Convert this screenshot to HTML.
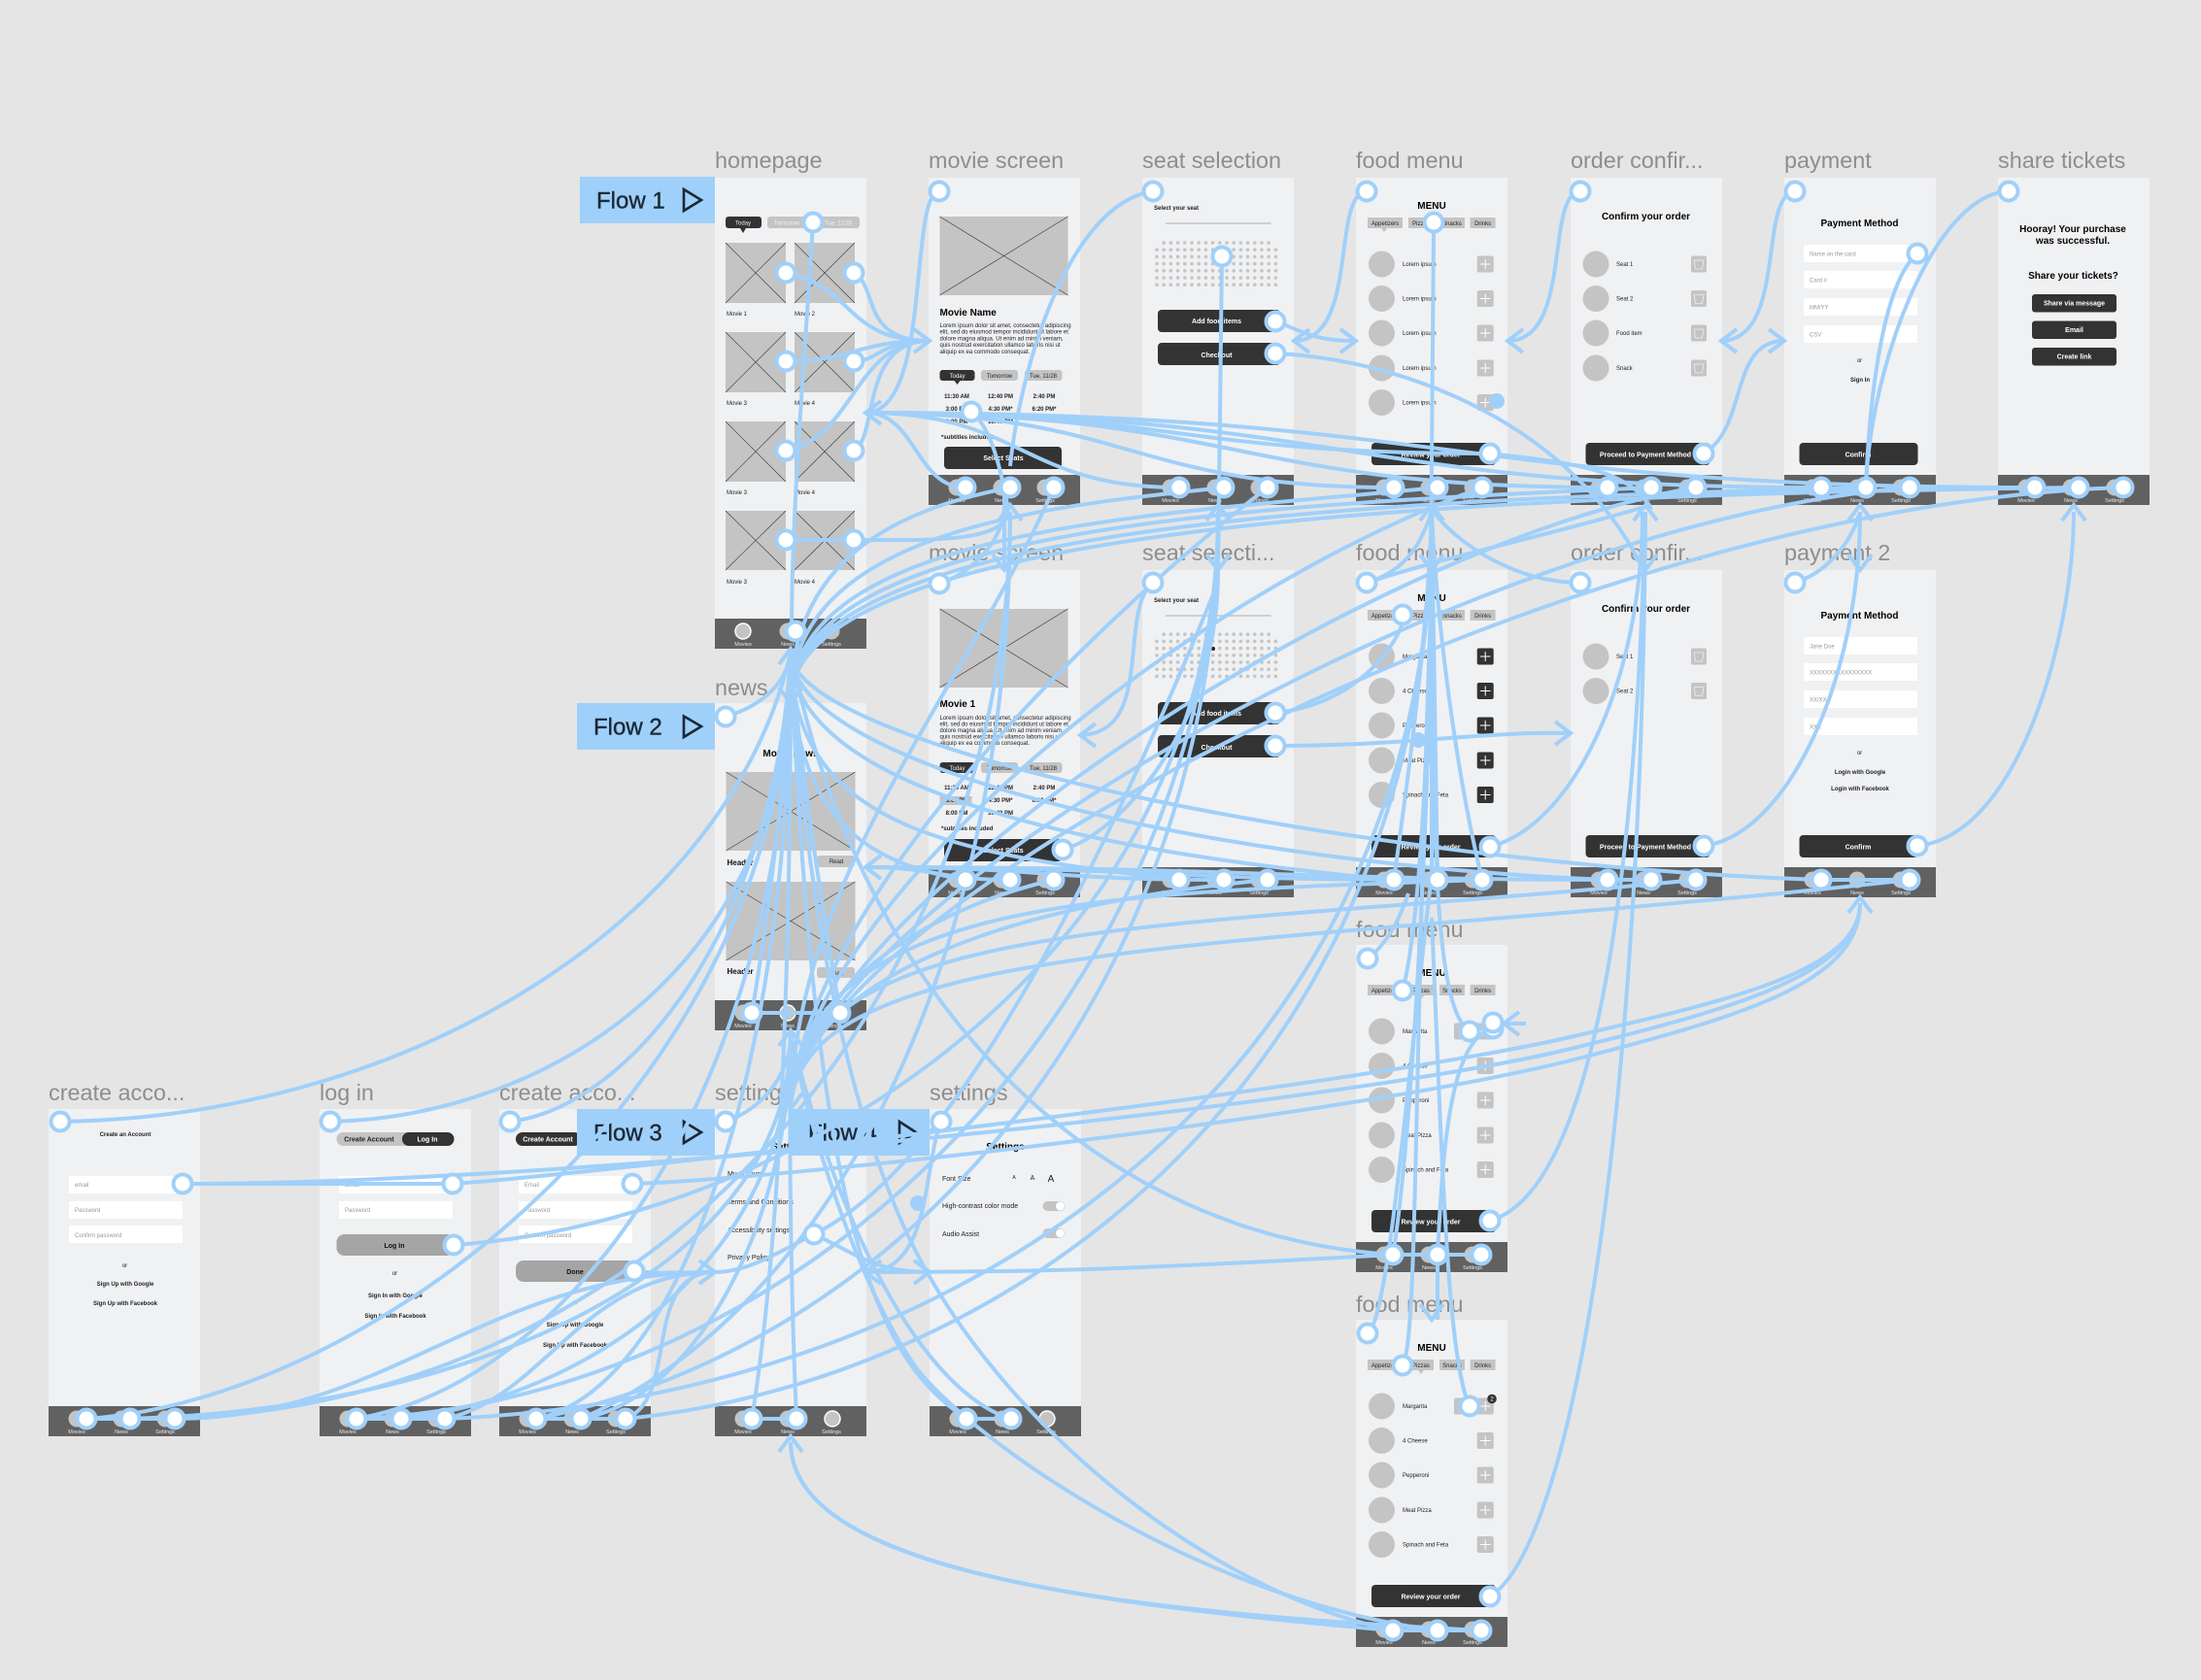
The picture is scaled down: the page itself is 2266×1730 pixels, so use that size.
<!DOCTYPE html>
<html><head><meta charset="utf-8"><title>Wireframe flows</title>
<style>
html,body{margin:0;padding:0;background:#e5e5e5;width:2266px;height:1730px;overflow:hidden}
svg{display:block;font-family:"Liberation Sans",sans-serif}
.f{fill:#f0f1f3}.t{fill:#616161}.c{fill:#c4c4c4}.d{fill:#333}.w{fill:#fff}
.lb{font-size:23.4px;fill:#8e8e8e}
.tl{font-size:5.5px;fill:#e8e8e8;text-anchor:middle}
.x{stroke:#333;stroke-width:.6;fill:none}
.s{font-size:6px;fill:#222}.sm{text-anchor:middle}
.b{font-weight:bold}
.h{font-size:10px;font-weight:bold;fill:#000;text-anchor:middle}
.bt{font-size:7px;font-weight:bold;fill:#fff;text-anchor:middle}
.dk{fill:#222}
.ph{font-size:6px;fill:#999}
.pl{font-size:6px;fill:#f0f0f0;text-anchor:middle}
.fl{font-size:24px;fill:#1c2836;stroke:#1c2836;stroke-width:.4}
.tr{fill:none;stroke:#1c2836;stroke-width:2.6}
.fb{fill:#9fd0fa}
.plus{stroke:#fff;stroke-width:1;fill:none}
.m{font-size:7px;fill:#222}
.cn path{fill:none;stroke:#a0d0fa;stroke-width:4}
.nd circle{fill:#fff;stroke:#a0d0fa;stroke-width:4}
</style></head><body>
<svg width="2266" height="1730" viewBox="0 0 2266 1730" xmlns="http://www.w3.org/2000/svg">
<defs>
<pattern id="dots" patternUnits="userSpaceOnUse" x="1187.4" y="246.4" width="7.2" height="7.2"><circle cx="3.6" cy="3.6" r="1.8" fill="#c4c4c4"/></pattern>
</defs>
<rect width="2266" height="1730" fill="#e5e5e5"/>

<!-- labels -->
<text class="lb" x="736" y="173">homepage</text>
<text class="lb" x="956" y="173">movie screen</text>
<text class="lb" x="1176" y="173">seat selection</text>
<text class="lb" x="1396" y="173">food menu</text>
<text class="lb" x="1617" y="173">order confir...</text>
<text class="lb" x="1837" y="173">payment</text>
<text class="lb" x="2057" y="173">share tickets</text>
<text class="lb" x="956" y="577">movie screen</text>
<text class="lb" x="1176" y="577">seat selecti...</text>
<text class="lb" x="1396" y="577">food menu</text>
<text class="lb" x="1617" y="577">order confir...</text>
<text class="lb" x="1837" y="577">payment 2</text>
<text class="lb" x="736" y="716">news</text>
<text class="lb" x="1396" y="965">food menu</text>
<text class="lb" x="1396" y="1351">food menu</text>
<text class="lb" x="50" y="1133">create acco...</text>
<text class="lb" x="329" y="1133">log in</text>
<text class="lb" x="514" y="1133">create acco...</text>
<text class="lb" x="736" y="1133">settings</text>
<text class="lb" x="957" y="1133">settings</text>

<!-- HOMEPAGE -->
<rect class="f" x="736" y="183" width="156" height="485"/>
<rect class="d" x="747" y="223" width="37" height="12" rx="3"/><path class="d" d="M762 235h6l-3 5z"/>
<text class="pl" x="765" y="231.5">Today</text>
<rect class="c" x="790" y="223" width="95" height="12" rx="3"/>
<text class="pl" x="810" y="231.5">Tomorrow</text><text class="pl" x="863" y="231.5">Tue, 11/28</text>
<rect class="c" x="747" y="250" width="62" height="62"/><path class="x" d="M747 250L809 312M809 250L747 312"/>
<rect class="c" x="818" y="250" width="62" height="62"/><path class="x" d="M818 250L880 312M880 250L818 312"/>
<rect class="c" x="747" y="342" width="62" height="62"/><path class="x" d="M747 342L809 404M809 342L747 404"/>
<rect class="c" x="818" y="342" width="62" height="62"/><path class="x" d="M818 342L880 404M880 342L818 404"/>
<rect class="c" x="747" y="434" width="62" height="62"/><path class="x" d="M747 434L809 496M809 434L747 496"/>
<rect class="c" x="818" y="434" width="62" height="62"/><path class="x" d="M818 434L880 496M880 434L818 496"/>
<rect class="c" x="747" y="526" width="62" height="61"/><path class="x" d="M747 526L809 587M809 526L747 587"/>
<rect class="c" x="818" y="526" width="62" height="61"/><path class="x" d="M818 526L880 587M880 526L818 587"/>
<text class="s" font-size="5.5" x="748" y="325">Movie 1</text><text class="s" x="818" y="325">Movie 2</text>
<text class="s" x="748" y="417">Movie 3</text><text class="s" x="818" y="417">Movie 4</text>
<text class="s" x="748" y="509">Movie 3</text><text class="s" x="818" y="509">Movie 4</text>
<text class="s" x="748" y="601">Movie 3</text><text class="s" x="818" y="601">Movie 4</text>
<rect class="t" x="736" y="637" width="156" height="31"/>
<circle class="c" cx="765" cy="650" r="8" stroke="#fff" stroke-width="1.4"/><circle class="c" cx="811" cy="650" r="8.5"/><circle class="c" cx="856" cy="650" r="8.5"/>
<text class="tl" x="765" y="665">Movies</text><text class="tl" x="811" y="665">News</text><text class="tl" x="856" y="665">Settings</text>

<!-- MOVIE SCREEN 1 -->
<g transform="translate(956,183)">
<rect class="f" width="156" height="337"/>
<rect class="c" x="11.5" y="40" width="132" height="81"/><path class="x" d="M11.5 40L143.5 121M143.5 40L11.5 121"/>
<text x="11.5" y="142" font-size="10" font-weight="bold" fill="#000">Movie Name</text>
<text class="s" x="11.5" y="154">Lorem ipsum dolor sit amet, consectetur adipiscing</text>
<text class="s" x="11.5" y="160.7">elit, sed do eiusmod tempor incididunt ut labore et</text>
<text class="s" x="11.5" y="167.4">dolore magna aliqua. Ut enim ad minim veniam,</text>
<text class="s" x="11.5" y="174.1">quis nostrud exercitation ullamco laboris nisi ut</text>
<text class="s" x="11.5" y="180.8">aliquip ex ea commodo consequat.</text>
<rect class="d" x="11.5" y="198" width="36" height="11" rx="3"/><path class="d" d="M26.5 209h6l-3 4z"/><text class="pl" x="29.5" y="206">Today</text>
<rect class="c" x="54" y="198" width="38" height="11" rx="3"/><text class="s sm" x="73" y="206">Tomorrow</text>
<rect class="c" x="99" y="198" width="38.5" height="11" rx="3"/><text class="s sm" x="118" y="206">Tue, 11/28</text>
<g class="s sm b"><text x="29" y="227">11:30 AM</text><text x="74" y="227">12:40 PM</text><text x="119" y="227">2:40 PM</text>
<text x="29" y="240">3:00 PM</text><text x="74" y="240">4:30 PM*</text><text x="119" y="240">6:20 PM*</text>
<text x="29" y="253">8:00 PM</text><text x="74" y="253">10:40 PM</text></g>
<text class="s b" x="13" y="269">*subtitles included</text>
<rect class="d" x="16" y="277" width="121" height="23" rx="4"/><text class="bt" x="77" y="291">Select Seats</text>
<rect class="t" y="306" width="156" height="31"/>
<circle class="c" cx="29" cy="319" r="8.5"/><circle class="c" cx="75" cy="319" r="8.5"/><circle class="c" cx="120" cy="319" r="8.5"/>
<text class="tl" x="29" y="334">Movies</text><text class="tl" x="75" y="334">News</text><text class="tl" x="120" y="334">Settings</text>
</g>

<!-- MOVIE SCREEN 2 -->
<g transform="translate(956,587)">
<rect class="f" width="156" height="337"/>
<rect class="c" x="11.5" y="40" width="132" height="81"/><path class="x" d="M11.5 40L143.5 121M143.5 40L11.5 121"/>
<text x="11.5" y="141" font-size="10" font-weight="bold" fill="#000">Movie 1</text>
<text class="s" x="11.5" y="154">Lorem ipsum dolor sit amet, consectetur adipiscing</text>
<text class="s" x="11.5" y="160.5">elit, sed do eiusmod tempor incididunt ut labore et</text>
<text class="s" x="11.5" y="167">dolore magna aliqua. Ut enim ad minim veniam,</text>
<text class="s" x="11.5" y="173.5">quis nostrud exercitation ullamco laboris nisi ut</text>
<text class="s" x="11.5" y="180">aliquip ex ea commodo consequat.</text>
<rect class="d" x="11.5" y="198" width="36" height="11" rx="3"/><text class="pl" x="29.5" y="206">Today</text>
<rect class="c" x="54" y="198" width="38" height="11" rx="3"/><text class="s sm" x="73" y="206">Tomorrow</text>
<rect class="c" x="99" y="198" width="38.5" height="11" rx="3"/><text class="s sm" x="118" y="206">Tue, 11/28</text>
<rect class="c" x="11.5" y="233" width="33" height="9"/>
<g class="s sm b"><text x="29" y="226">11:30 AM</text><text x="74" y="226">12:40 PM</text><text x="119" y="226">2:40 PM</text>
<text x="29" y="239">3:00 PM</text><text x="74" y="239">4:30 PM*</text><text x="119" y="239">6:20 PM*</text>
<text x="29" y="252">8:00 PM</text><text x="74" y="252">10:40 PM</text></g>
<text class="s b" x="13" y="268">*subtitles included</text>
<rect class="d" x="16" y="277" width="121" height="23" rx="4"/><text class="bt" x="77" y="291">Select Seats</text>
<rect class="t" y="306" width="156" height="31"/>
<circle class="c" cx="29" cy="319" r="8.5"/><circle class="c" cx="75" cy="319" r="8.5"/><circle class="c" cx="120" cy="319" r="8.5"/>
<text class="tl" x="29" y="334">Movies</text><text class="tl" x="75" y="334">News</text><text class="tl" x="120" y="334">Settings</text>
</g>

<!-- SEAT 1 -->
<g transform="translate(1176,183)">
<rect class="f" width="156" height="337"/>
<text class="s b sm" font-size="5.5" x="35" y="33">Select your seat</text>
<path d="M24 47H132.600" stroke="#c4c4c4" stroke-width="1.5"/>
<rect class="d" x="16" y="136" width="126" height="23" rx="4"/><text class="bt" x="76.500" y="150">Add food items</text>
<rect class="d" x="16" y="170" width="126" height="23" rx="4"/><text class="bt" x="76.500" y="185">Checkout</text>
<rect class="t" y="306" width="156" height="31"/>
<circle class="c" cx="29" cy="319" r="8.5"/><circle class="c" cx="75" cy="319" r="8.5"/><circle class="c" cx="120" cy="319" r="8.5"/>
<text class="tl" x="29" y="334">Movies</text><text class="tl" x="75" y="334">News</text><text class="tl" x="120" y="334">Settings</text>
</g>
<rect x="1194.600" y="246.400" width="115.200" height="7.200" fill="url(#dots)"/>
<rect x="1187.400" y="253.600" width="129.600" height="43.200" fill="url(#dots)"/>

<!-- SEAT 2 -->
<g transform="translate(1176,587)">
<rect class="f" width="156" height="337"/>
<text class="s b sm" font-size="5.5" x="35" y="33">Select your seat</text>
<path d="M24 47H132.600" stroke="#c4c4c4" stroke-width="1.5"/>
<rect class="d" x="16" y="136" width="126" height="23" rx="4"/><text class="bt" x="76.500" y="150">Add food items</text>
<rect class="d" x="16" y="170" width="126" height="23" rx="4"/><text class="bt" x="76.500" y="185">Checkout</text>
<rect class="t" y="306" width="156" height="31"/>
<circle class="c" cx="29" cy="319" r="8.5"/><circle class="c" cx="75" cy="319" r="8.5"/><circle class="c" cx="120" cy="319" r="8.5"/>
<text class="tl" x="29" y="334">Movies</text><text class="tl" x="75" y="334">News</text><text class="tl" x="120" y="334">Settings</text>
</g>
<rect x="1194.600" y="650.400" width="115.200" height="7.200" fill="url(#dots)"/>
<rect x="1187.400" y="657.600" width="129.600" height="43.200" fill="url(#dots)"/>
<circle cx="1249" cy="668" r="2" fill="#222"/>

<!-- FOOD 1 -->
<g transform="translate(1396,183)">
<rect class="f" width="156" height="337"/>
<text class="h" x="78" y="32">MENU</text>
<rect class="c" x="12" y="41" width="36" height="11"/><path class="c" d="M26 52h6l-3 4z"/><text class="s sm" x="30" y="49">Appetizers</text>
<rect class="c" x="54" y="41" width="26" height="11"/><text class="s sm" x="67" y="49">Pizzas</text>
<rect class="c" x="86" y="41" width="26" height="11"/><text class="s sm" x="99" y="49">Snacks</text>
<rect class="c" x="117.600" y="41" width="26" height="11"/><text class="s sm" x="130.600" y="49">Drinks</text>
<circle class="c" cx="26.500" cy="89" r="13.500"/><circle class="c" cx="26.500" cy="124.500" r="13.500"/><circle class="c" cx="26.500" cy="160" r="13.500"/><circle class="c" cx="26.500" cy="196" r="13.500"/><circle class="c" cx="26.500" cy="231.500" r="13.500"/>
<text class="s" x="48" y="91">Lorem ipsum</text><text class="s" x="48" y="126.500">Lorem ipsum</text><text class="s" x="48" y="162">Lorem ipsum</text><text class="s" x="48" y="198">Lorem ipsum</text><text class="s" x="48" y="233.500">Lorem ipsum</text>
<g class="c"><rect x="124.700" y="80.500" width="17" height="17" rx="2"/><rect x="124.700" y="116" width="17" height="17" rx="2"/><rect x="124.700" y="151.500" width="17" height="17" rx="2"/><rect x="124.700" y="187.500" width="17" height="17" rx="2"/><rect x="124.700" y="223" width="17" height="17" rx="2"/></g>
<path class="plus" d="M128 89h10.500M133.200 84v10M128 124.500h10.500M133.200 119.500v10M128 160h10.500M133.200 155v10M128 196h10.500M133.200 191v10M128 231.500h10.500M133.200 226.500v10"/>
<rect class="d" x="16" y="273" width="128" height="23" rx="4"/><text class="bt" x="77" y="287.500">Review your order</text>
<rect class="t" y="306" width="156" height="31"/>
<circle class="c" cx="29" cy="319" r="8.5"/><circle class="c" cx="75" cy="319" r="8.5"/><circle class="c" cx="120" cy="319" r="8.5"/>
<text class="tl" x="29" y="334">Movies</text><text class="tl" x="75" y="334">News</text><text class="tl" x="120" y="334">Settings</text>
</g>

<!-- FOOD 2 -->
<g transform="translate(1396,587)">
<rect class="f" width="156" height="337"/>
<text class="h" x="78" y="32">MENU</text>
<rect class="c" x="12" y="41" width="36" height="11"/><text class="s sm" x="30" y="49">Appetizers</text>
<rect class="c" x="54" y="41" width="26" height="11"/><path class="c" d="M64 52h6l-3 4z"/><text class="s sm" x="67" y="49">Pizzas</text>
<rect class="c" x="86" y="41" width="26" height="11"/><text class="s sm" x="99" y="49">Snacks</text>
<rect class="c" x="117.600" y="41" width="26" height="11"/><text class="s sm" x="130.600" y="49">Drinks</text>
<circle class="c" cx="26.500" cy="89" r="13.500"/><circle class="c" cx="26.500" cy="124.500" r="13.500"/><circle class="c" cx="26.500" cy="160" r="13.500"/><circle class="c" cx="26.500" cy="196" r="13.500"/><circle class="c" cx="26.500" cy="231.500" r="13.500"/>
<text class="s" x="48" y="91">Margarita</text><text class="s" x="48" y="126.500">4 Cheese</text><text class="s" x="48" y="162">Pepperoni</text><text class="s" x="48" y="198">Meat Pizza</text><text class="s" x="48" y="233.500">Spinach and Feta</text>
<g class="d"><rect x="124.700" y="80.500" width="17" height="17" rx="2"/><rect x="124.700" y="116" width="17" height="17" rx="2"/><rect x="124.700" y="151.500" width="17" height="17" rx="2"/><rect x="124.700" y="187.500" width="17" height="17" rx="2"/><rect x="124.700" y="223" width="17" height="17" rx="2"/></g>
<path class="plus" d="M128 89h10.500M133.200 84v10M128 124.500h10.500M133.200 119.500v10M128 160h10.500M133.200 155v10M128 196h10.500M133.200 191v10M128 231.500h10.500M133.200 226.500v10"/>
<rect class="d" x="16" y="273" width="128" height="23" rx="4"/><text class="bt" x="77" y="287.500">Review your order</text>
<rect class="t" y="306" width="156" height="31"/>
<circle class="c" cx="29" cy="319" r="8.5"/><circle class="c" cx="75" cy="319" r="8.5"/><circle class="c" cx="120" cy="319" r="8.5"/>
<text class="tl" x="29" y="334">Movies</text><text class="tl" x="75" y="334">News</text><text class="tl" x="120" y="334">Settings</text>
</g>

<!-- FOOD 3 -->
<g transform="translate(1396,973)">
<rect class="f" width="156" height="337"/>
<text class="h" x="78" y="32">MENU</text>
<rect class="c" x="12" y="41" width="36" height="11"/><text class="s sm" x="30" y="49">Appetizers</text>
<rect class="c" x="54" y="41" width="26" height="11"/><path class="c" d="M64 52h6l-3 4z"/><text class="s sm" x="67" y="49">Pizzas</text>
<rect class="c" x="86" y="41" width="26" height="11"/><text class="s sm" x="99" y="49">Snacks</text>
<rect class="c" x="117.600" y="41" width="26" height="11"/><text class="s sm" x="130.600" y="49">Drinks</text>
<circle class="c" cx="26.500" cy="89" r="13.500"/><circle class="c" cx="26.500" cy="124.500" r="13.500"/><circle class="c" cx="26.500" cy="160" r="13.500"/><circle class="c" cx="26.500" cy="196" r="13.500"/><circle class="c" cx="26.500" cy="231.500" r="13.500"/>
<text class="s" x="48" y="91">Margarita</text><text class="s" x="48" y="126.500">4 Cheese</text><text class="s" x="48" y="162">Pepperoni</text><text class="s" x="48" y="198">Meat Pizza</text><text class="s" x="48" y="233.500">Spinach and Feta</text>
<g class="c"><rect x="101" y="80.500" width="40.700" height="17" rx="2"/><rect x="124.700" y="116" width="17" height="17" rx="2"/><rect x="124.700" y="151.500" width="17" height="17" rx="2"/><rect x="124.700" y="187.500" width="17" height="17" rx="2"/><rect x="124.700" y="223" width="17" height="17" rx="2"/></g>
<path class="plus" d="M128 89h10.500M133.200 84v10M128 124.500h10.500M133.200 119.500v10M128 160h10.500M133.200 155v10M128 196h10.500M133.200 191v10M128 231.500h10.500M133.200 226.500v10"/>
<rect class="d" x="16" y="273" width="128" height="23" rx="4"/><text class="bt" x="77" y="287.500">Review your order</text>
<rect class="t" y="306" width="156" height="31"/>
<circle class="c" cx="29" cy="319" r="8.5"/><circle class="c" cx="75" cy="319" r="8.5"/><circle class="c" cx="120" cy="319" r="8.5"/>
<text class="tl" x="29" y="334">Movies</text><text class="tl" x="75" y="334">News</text><text class="tl" x="120" y="334">Settings</text>
</g>

<!-- FOOD 4 -->
<g transform="translate(1396,1359)">
<rect class="f" width="156" height="337"/>
<text class="h" x="78" y="32">MENU</text>
<rect class="c" x="12" y="41" width="36" height="11"/><text class="s sm" x="30" y="49">Appetizers</text>
<rect class="c" x="54" y="41" width="26" height="11"/><path class="c" d="M64 52h6l-3 4z"/><text class="s sm" x="67" y="49">Pizzas</text>
<rect class="c" x="86" y="41" width="26" height="11"/><text class="s sm" x="99" y="49">Snacks</text>
<rect class="c" x="117.600" y="41" width="26" height="11"/><text class="s sm" x="130.600" y="49">Drinks</text>
<circle class="c" cx="26.500" cy="89" r="13.500"/><circle class="c" cx="26.500" cy="124.500" r="13.500"/><circle class="c" cx="26.500" cy="160" r="13.500"/><circle class="c" cx="26.500" cy="196" r="13.500"/><circle class="c" cx="26.500" cy="231.500" r="13.500"/>
<text class="s" x="48" y="91">Margarita</text><text class="s" x="48" y="126.500">4 Cheese</text><text class="s" x="48" y="162">Pepperoni</text><text class="s" x="48" y="198">Meat Pizza</text><text class="s" x="48" y="233.500">Spinach and Feta</text>
<g class="c"><rect x="101" y="80.500" width="40.700" height="17" rx="2"/><rect x="124.700" y="116" width="17" height="17" rx="2"/><rect x="124.700" y="151.500" width="17" height="17" rx="2"/><rect x="124.700" y="187.500" width="17" height="17" rx="2"/><rect x="124.700" y="223" width="17" height="17" rx="2"/></g>
<path class="plus" d="M128 89h10.500M133.200 84v10M128 124.500h10.500M133.200 119.500v10M128 160h10.500M133.200 155v10M128 196h10.500M133.200 191v10M128 231.500h10.500M133.200 226.500v10"/>
<circle class="d" cx="140" cy="81.500" r="4.800"/><text x="140" y="83.500" font-size="6" fill="#fff" text-anchor="middle">2</text>
<rect class="d" x="16" y="273" width="128" height="23" rx="4"/><text class="bt" x="77" y="287.500">Review your order</text>
<rect class="t" y="306" width="156" height="31"/>
<circle class="c" cx="29" cy="319" r="8.5"/><circle class="c" cx="75" cy="319" r="8.5"/><circle class="c" cx="120" cy="319" r="8.5"/>
<text class="tl" x="29" y="334">Movies</text><text class="tl" x="75" y="334">News</text><text class="tl" x="120" y="334">Settings</text>
</g>

<!-- ORDER 1 -->
<g transform="translate(1617,183)">
<rect class="f" width="156" height="337"/>
<text class="h" font-size="9.500" x="77.500" y="43">Confirm your order</text>
<circle class="c" cx="26" cy="89" r="13.500"/><circle class="c" cx="26" cy="124.500" r="13.500"/><circle class="c" cx="26" cy="160" r="13.500"/><circle class="c" cx="26" cy="196" r="13.500"/>
<text class="s" x="47" y="91">Seat 1</text><text class="s" x="47" y="126.500">Seat 2</text><text class="s" x="47" y="162">Food item</text><text class="s" x="47" y="198">Snack</text>
<g class="c"><rect x="124" y="80.500" width="16" height="17" rx="2"/><rect x="124" y="116" width="16" height="17" rx="2"/><rect x="124" y="151.500" width="16" height="17" rx="2"/><rect x="124" y="187.500" width="16" height="17" rx="2"/></g>
<path d="M127 85h10l-1.500 9h-7zM127 120.500h10l-1.500 9h-7zM127 156h10l-1.500 9h-7zM127 192h10l-1.500 9h-7z" fill="none" stroke="#eee" stroke-width=".8"/>
<rect class="d" x="15.500" y="273" width="128" height="23" rx="4"/><text class="bt" x="77" y="287.500">Proceed to Payment Method</text>
<rect class="t" y="306" width="156" height="31"/>
<circle class="c" cx="29" cy="319" r="8.5"/><circle class="c" cx="75" cy="319" r="8.5"/><circle class="c" cx="120" cy="319" r="8.5"/>
<text class="tl" x="29" y="334">Movies</text><text class="tl" x="75" y="334">News</text><text class="tl" x="120" y="334">Settings</text>
</g>

<!-- ORDER 2 -->
<g transform="translate(1617,587)">
<rect class="f" width="156" height="337"/>
<text class="h" font-size="9.500" x="77.500" y="43">Confirm your order</text>
<circle class="c" cx="26" cy="89" r="13.500"/><circle class="c" cx="26" cy="124.500" r="13.500"/>
<text class="s" x="47" y="91">Seat 1</text><text class="s" x="47" y="126.500">Seat 2</text>
<g class="c"><rect x="124" y="80.500" width="16" height="17" rx="2"/><rect x="124" y="116" width="16" height="17" rx="2"/></g>
<path d="M127 85h10l-1.500 9h-7zM127 120.500h10l-1.500 9h-7z" fill="none" stroke="#eee" stroke-width=".8"/>
<rect class="d" x="15.500" y="273" width="128" height="23" rx="4"/><text class="bt" x="77" y="287.500">Proceed to Payment Method</text>
<rect class="t" y="306" width="156" height="31"/>
<circle class="c" cx="29" cy="319" r="8.5"/><circle class="c" cx="75" cy="319" r="8.5"/><circle class="c" cx="120" cy="319" r="8.5"/>
<text class="tl" x="29" y="334">Movies</text><text class="tl" x="75" y="334">News</text><text class="tl" x="120" y="334">Settings</text>
</g>

<!-- PAYMENT 1 -->
<g transform="translate(1837,183)">
<rect class="f" width="156" height="337"/>
<text class="h" x="77.500" y="50">Payment Method</text>
<g class="w"><rect x="20" y="69" width="117" height="18"/><rect x="20" y="96" width="117" height="18"/><rect x="20" y="124" width="117" height="18"/><rect x="20" y="152" width="117" height="18"/></g>
<text class="ph" x="26" y="80.500">Name on the card</text><text class="ph" x="26" y="107.500">Card #</text><text class="ph" x="26" y="135.500">MM/YY</text><text class="ph" x="26" y="163.500">CSV</text>
<text class="s sm" x="77.500" y="190">or</text><text class="s sm b" x="78" y="210">Sign In</text>
<rect class="d" x="15.500" y="273" width="122" height="23" rx="4"/><text class="bt" x="76" y="287.500">Confirm</text>
<rect class="t" y="306" width="156" height="31"/>
<circle class="c" cx="29" cy="319" r="8.5"/><circle class="c" cx="75" cy="319" r="8.5"/><circle class="c" cx="120" cy="319" r="8.5"/>
<text class="tl" x="29" y="334">Movies</text><text class="tl" x="75" y="334">News</text><text class="tl" x="120" y="334">Settings</text>
</g>

<!-- PAYMENT 2 -->
<g transform="translate(1837,587)">
<rect class="f" width="156" height="337"/>
<text class="h" x="77.500" y="50">Payment Method</text>
<g class="w"><rect x="20" y="69" width="117" height="18"/><rect x="20" y="96" width="117" height="18"/><rect x="20" y="124" width="117" height="18"/><rect x="20" y="152" width="117" height="18"/></g>
<text class="ph" x="26" y="80.500">Jane Doe</text><text class="ph" x="26" y="107.500">XXXXXXXXXXXXXXXX</text><text class="ph" x="26" y="135.500">XX/XX</text><text class="ph" x="26" y="163.500">XXX</text>
<text class="s sm" x="77.500" y="190">or</text><text class="s sm b" x="78" y="210">Login with Google</text><text class="s sm b" x="78" y="227">Login with Facebook</text>
<rect class="d" x="15.500" y="273" width="122" height="23" rx="4"/><text class="bt" x="76" y="287.500">Confirm</text>
<rect class="t" y="306" width="156" height="31"/>
<circle class="c" cx="29" cy="319" r="8.5"/><circle class="c" cx="75" cy="319" r="8.5"/><circle class="c" cx="120" cy="319" r="8.5"/>
<text class="tl" x="29" y="334">Movies</text><text class="tl" x="75" y="334">News</text><text class="tl" x="120" y="334">Settings</text>
</g>

<!-- SHARE -->
<g transform="translate(2057,183)">
<rect class="f" width="156" height="337"/>
<text class="h" x="77" y="56">Hooray! Your purchase</text><text class="h" x="77" y="68">was successful.</text>
<text class="h" x="77.500" y="104">Share your tickets?</text>
<rect class="d" x="35" y="120" width="87" height="18.500" rx="3"/><text class="bt" font-size="5.500" x="78.500" y="131.500">Share via message</text>
<rect class="d" x="35" y="147.500" width="87" height="18.500" rx="3"/><text class="bt" font-size="5.500" x="78.500" y="159">Email</text>
<rect class="d" x="35" y="175" width="87" height="18.500" rx="3"/><text class="bt" font-size="5.500" x="78.500" y="186.500">Create link</text>
<rect class="t" y="306" width="156" height="31"/>
<circle class="c" cx="29" cy="319" r="8.5"/><circle class="c" cx="75" cy="319" r="8.5"/><circle class="c" cx="120" cy="319" r="8.5"/>
<text class="tl" x="29" y="334">Movies</text><text class="tl" x="75" y="334">News</text><text class="tl" x="120" y="334">Settings</text>
</g>

<!-- NEWS -->
<g transform="translate(736,724)">
<rect class="f" width="156" height="337"/>
<text class="h" font-size="9" x="78" y="55">Movie News</text>
<rect class="c" x="11.500" y="71" width="133" height="81"/><path class="x" d="M11.500 71L144.500 152M144.500 71L11.500 152"/>
<text x="12.500" y="167" font-size="8" font-weight="bold" fill="#111">Header</text>
<rect class="c" x="105" y="157" width="39" height="12" rx="3"/><text class="s sm" x="125" y="165">Read</text>
<rect class="c" x="11.500" y="184" width="133" height="81"/><path class="x" d="M11.500 184L144.500 265M144.500 184L11.500 265"/>
<text x="12.500" y="279" font-size="8" font-weight="bold" fill="#111">Header</text>
<rect class="c" x="105" y="272" width="39" height="11" rx="3"/><text class="s sm" x="125" y="280">Read</text>
<rect class="t" y="306" width="156" height="31"/>
<circle class="c" cx="29" cy="319" r="8.5"/><circle class="c" cx="75" cy="319" r="8" stroke="#fff" stroke-width="1.400"/><circle class="c" cx="120" cy="319" r="8.5"/>
<text class="tl" x="29" y="334">Movies</text><text class="tl" x="75" y="334">News</text><text class="tl" x="120" y="334">Settings</text>
</g>

<!-- CREATE ACCOUNT -->
<g transform="translate(50,1142)">
<rect class="f" width="156" height="337"/>
<text class="s sm b" font-size="5.500" x="79" y="28">Create an Account</text>
<g class="w"><rect x="21" y="69" width="117" height="18"/><rect x="21" y="95" width="117" height="18"/><rect x="21" y="120" width="117" height="18"/></g>
<text class="ph" x="27" y="80">email</text><text class="ph" x="27" y="106">Password</text><text class="ph" x="27" y="132">Confirm password</text>
<text class="s sm" x="78.500" y="163">or</text><text class="s sm b" x="79" y="182">Sign Up with Google</text><text class="s sm b" x="79" y="202">Sign Up with Facebook</text>
<rect class="t" y="306" width="156" height="31"/>
<circle class="c" cx="29" cy="319" r="8.5"/><circle class="c" cx="75" cy="319" r="8.5"/><circle class="c" cx="120" cy="319" r="8.5"/>
<text class="tl" x="29" y="334">Movies</text><text class="tl" x="75" y="334">News</text><text class="tl" x="120" y="334">Settings</text>
</g>

<!-- LOG IN -->
<g transform="translate(329,1142)">
<rect class="f" width="156" height="337"/>
<rect class="c" x="17.500" y="24" width="121" height="14" rx="7"/><rect class="d" x="85" y="24" width="53.500" height="14" rx="7"/>
<text class="bt" x="51" y="33.500" style="fill:#222">Create Account</text><text class="bt" x="111" y="33.500">Log In</text>
<g class="w"><rect x="20" y="69" width="117" height="18"/><rect x="20" y="95" width="117" height="18"/></g>
<text class="ph" x="26" y="80">Email</text><text class="ph" x="26" y="106">Password</text>
<rect x="17.500" y="129" width="121" height="22" rx="8" fill="#a5a5a5"/><text class="bt" x="77" y="143" style="fill:#111">Log In</text>
<text class="s sm" x="77.500" y="171">or</text><text class="s sm b" x="78" y="194">Sign In with Google</text><text class="s sm b" x="78" y="215">Sign In with Facebook</text>
<rect class="t" y="306" width="156" height="31"/>
<circle class="c" cx="29" cy="319" r="8.5"/><circle class="c" cx="75" cy="319" r="8.5"/><circle class="c" cx="120" cy="319" r="8.5"/>
<text class="tl" x="29" y="334">Movies</text><text class="tl" x="75" y="334">News</text><text class="tl" x="120" y="334">Settings</text>
</g>

<!-- CREATE 2 -->
<g transform="translate(514,1142)">
<rect class="f" width="156" height="337"/>
<rect class="c" x="17" y="24" width="121" height="14" rx="7"/><rect class="d" x="17" y="24" width="67" height="14" rx="7"/>
<text class="bt" x="50" y="33.500">Create Account</text>
<g class="w"><rect x="20" y="69" width="117" height="18"/><rect x="20" y="95" width="117" height="18"/><rect x="20" y="120" width="117" height="18"/></g>
<text class="ph" x="26" y="80">Email</text><text class="ph" x="26" y="106">Password</text><text class="ph" x="26" y="132">Confirm password</text>
<rect x="17" y="156" width="122" height="22" rx="8" fill="#a5a5a5"/><text class="bt" x="78" y="170" style="fill:#111">Done</text>
<text class="s sm" x="78" y="201">or</text><text class="s sm b" x="78" y="224">Sign Up with Google</text><text class="s sm b" x="78" y="245">Sign Up with Facebook</text>
<rect class="t" y="306" width="156" height="31"/>
<circle class="c" cx="29" cy="319" r="8.5"/><circle class="c" cx="75" cy="319" r="8.5"/><circle class="c" cx="120" cy="319" r="8.5"/>
<text class="tl" x="29" y="334">Movies</text><text class="tl" x="75" y="334">News</text><text class="tl" x="120" y="334">Settings</text>
</g>

<!-- SETTINGS 1 -->
<g transform="translate(736,1142)">
<rect class="f" width="156" height="337"/>
<text class="h" font-size="9" x="78" y="42">Settings</text>
<text class="m" x="13" y="69">My Account</text><text class="m" x="13" y="98">Terms and Conditions</text><text class="m" x="13" y="127">Accessibility settings</text><text class="m" x="13" y="155">Privacy Policy</text>
<rect class="t" y="306" width="156" height="31"/>
<circle class="c" cx="29" cy="319" r="8.5"/><circle class="c" cx="75" cy="319" r="8.5"/><circle class="c" cx="121" cy="319" r="8" stroke="#fff" stroke-width="1.400"/>
<text class="tl" x="29" y="334">Movies</text><text class="tl" x="75" y="334">News</text><text class="tl" x="120" y="334">Settings</text>
</g>

<!-- SETTINGS 2 -->
<g transform="translate(957,1142)">
<rect class="f" width="156" height="337"/>
<text class="h" font-size="9" x="78" y="42">Settings</text>
<text class="m" x="13" y="74">Font Size</text>
<text x="87" y="72" font-size="5" fill="#222" text-anchor="middle">A</text><text x="106" y="73" font-size="7" fill="#222" text-anchor="middle">A</text><text x="125" y="75" font-size="10" fill="#222" text-anchor="middle">A</text>
<text class="m" x="13" y="102">High-contrast color mode</text><text class="m" x="13" y="131">Audio Assist</text>
<rect class="c" x="116.500" y="95" width="23" height="10" rx="5"/><circle class="w" cx="134.500" cy="100" r="4.500"/>
<rect class="c" x="116.500" y="123" width="23" height="10" rx="5"/><circle class="w" cx="134.500" cy="128" r="4.500"/>
<rect class="t" y="306" width="156" height="31"/>
<circle class="c" cx="29" cy="319" r="8.5"/><circle class="c" cx="75" cy="319" r="8.5"/><circle class="c" cx="121" cy="319" r="8" stroke="#fff" stroke-width="1.400"/>
<text class="tl" x="29" y="334">Movies</text><text class="tl" x="75" y="334">News</text><text class="tl" x="120" y="334">Settings</text>
</g>

<!-- FLOW BUTTONS -->
<rect class="fb" x="597" y="182" width="139" height="48"/><text class="fl" x="614" y="214.500">Flow 1</text><path class="tr" d="M704 195L722 206L704 217Z"/>
<rect class="fb" x="594" y="724" width="142" height="48"/><text class="fl" x="611" y="756.500">Flow 2</text><path class="tr" d="M704 737.500L722 748L704 759Z"/>
<rect class="fb" x="594" y="1142" width="142" height="48"/><text class="fl" x="611" y="1174.500">Flow 3</text><path class="tr" d="M704 1155L722 1166L704 1177Z"/>
<rect class="fb" x="812" y="1142" width="145" height="48"/><text class="fl" x="832" y="1174.500">Flow 4</text><path class="tr" d="M926 1155L943 1166L926 1177Z"/>

<!-- CONNECTORS -->
<g class="cn">
<!-- homepage -->
<path d="M837 229C830 350 815 520 815 650"/>
<path d="M809 281C880 295 870 351 957 351"/><path d="M879 281C905 295 885 351 957 351"/>
<path d="M809 372C880 372 880 351 957 351"/><path d="M879 372C905 372 905 351 957 351"/>
<path d="M809 464C880 450 880 351 957 351"/><path d="M879 464C905 450 885 351 957 351"/>
<path d="M809 556H879"/><path d="M879 556C950 556 1038 560 1038 525"/>
<path d="M967 197C935 200 960 425 891 425"/>
<!-- fan to homepage right -->
<path d="M994 502C943 502 943 425 891 425"/><path d="M1214 502C1052 502 1052 425 891 425"/><path d="M1435 502C1163 502 1163 425 891 425"/>
<path d="M1655 502C1273 502 1273 425 891 425"/><path d="M1875 502C1383 502 1383 425 891 425"/><path d="M2095 502C1493 502 1493 425 891 425"/>
<path d="M1534 467C1212 467 1212 425 891 425"/>
<!-- row1 news to news top -->
<path d="M1040 502C950 520 815 560 814 720"/><path d="M1260 502C1100 520 815 540 814 720"/><path d="M1480 502C1200 530 820 540 814 720"/>
<path d="M1700 502C1300 520 820 540 814 720"/><path d="M1921 502C1400 515 820 540 814 720"/><path d="M2140 502C1500 510 820 540 814 720"/>
<!-- row1 settings to settings top -->
<path d="M1085 502C1000 700 820 900 814 1138"/><path d="M1305 502C1100 660 830 940 814 1138"/><path d="M1526 502C1200 620 830 940 814 1138"/>
<path d="M1746 502C1400 560 830 940 814 1138"/><path d="M1966 502C1500 540 830 940 814 1138"/><path d="M2186 502C1600 520 830 940 814 1138"/>
<!-- row2 movies to homepage bottom -->
<path d="M994 906C900 890 814 850 814 672"/><path d="M1214 906C1000 880 814 860 814 672"/><path d="M1435 906C1150 880 814 820 814 672"/>
<path d="M1655 906C1250 890 814 790 814 672"/><path d="M1875 906C1400 890 814 770 814 672"/>
<!-- row2 news to news right -->
<path d="M1040 906C965 906 965 893 891 893"/><path d="M1260 906C1075 906 1075 893 891 893"/><path d="M1480 906C1185 906 1185 893 891 893"/><path d="M1700 906C1295 906 1295 893 891 893"/>
<path d="M1966 906H1875"/>
<!-- row2 settings to settings top -->
<path d="M1085 906C980 930 830 1000 814 1138"/><path d="M1305 906C1050 930 830 1000 814 1138"/><path d="M1526 906C1150 920 830 920 814 1138"/><path d="M1746 906C1200 960 830 940 814 1138"/>
<path d="M1966 906C1300 980 830 960 814 1138"/>
<!-- movie -->
<path d="M1000 424C1020 440 1030 480 1038 525"/><path d="M1187 197C1100 210 1050 380 1040 480"/>
<path d="M967 601C1000 590 1030 560 1034 525"/><path d="M1094 875C1150 860 1254 750 1254 590"/>
<path d="M1034 586L1034 500"/>
<!-- seat -->
<path d="M1258 264L1254 590"/>
<path d="M1313 331C1340 340 1350 351 1396 351"/><path d="M1407 197C1370 200 1400 351 1332 351"/><path d="M1627 197C1590 200 1620 351 1552 351"/>
<path d="M1848 197C1810 200 1840 351 1772 351"/><path d="M1754 467C1800 440 1780 351 1837 351"/>
<path d="M1313 364C1450 370 1620 440 1691 585"/>
<path d="M1187 600C1150 630 1190 755 1112 757"/>
<path d="M1313 734C1400 725 1440 660 1444 640"/><path d="M1313 768C1400 768 1460 762 1520 758S1580 755 1617 755"/>
<!-- food bundle -->
<path d="M1476 236L1473 590"/><path d="M1474 590V906"/><path d="M1435 906C1450 800 1470 650 1474 530"/><path d="M1526 906C1500 800 1480 650 1474 530"/><path d="M1480 906L1474 530"/>
<path d="M1444 1020C1460 960 1470 800 1474 590"/><path d="M1513 1062C1480 1040 1475 900 1474 600"/>
<path d="M1434 1292C1450 1200 1470 900 1474 600"/><path d="M1480 1292C1485 1200 1490 1070 1537 1059"/><path d="M1480 1292V1359"/>
<path d="M1513 1448C1490 1400 1485 1200 1474 945"/><path d="M1444 1406C1460 1380 1455 1100 1474 600"/>
<path d="M1408 1373C1430 1360 1450 1100 1474 900"/><path d="M1408 987C1425 975 1440 950 1450 920"/>
<path d="M1548 1054H1571"/><path d="M1434 1292H1525"/><path d="M1434 1679H1525"/>
<!-- reviews up to order bottom -->
<path d="M1534 1257C1610 1235 1680 1060 1694 527"/><path d="M1534 1644C1620 1590 1690 1150 1694 527"/>
<path d="M1534 872C1620 850 1691 700 1691 527"/><path d="M1534 467C1600 475 1680 480 1700 525"/>
<path d="M1627 600C1560 600 1500 560 1474 525"/><path d="M1407 600C1440 590 1460 570 1474 527"/><path d="M1407 600C1500 570 1600 550 1700 520"/>
<!-- payment -->
<path d="M1754 871C1840 860 1915 700 1915 527"/><path d="M1974 871C2080 860 2135 650 2135 527"/>
<path d="M1848 600C1880 590 1905 560 1914 530"/><path d="M1974 261C1940 290 1925 400 1921 502"/><path d="M2068 197C1990 200 1925 380 1921 502"/>
<!-- news/back -->
<path d="M747 738C790 725 810 700 814 672"/><path d="M62 1155C420 1150 750 950 814 672"/><path d="M340 1155C560 1150 814 1000 814 672"/><path d="M525 1155C650 1140 800 950 814 672"/>
<path d="M747 1155C790 1140 815 1100 814 1065"/>
<!-- news tabs -->
<path d="M774 1043C790 950 810 800 814 672"/><path d="M865 1043C840 900 820 750 814 672"/><path d="M774 1043H865"/>
<!-- bottom row -->
<path d="M89 1461H180"/><path d="M367 1461H458"/><path d="M552 1461H644"/><path d="M774 1461H820"/><path d="M995 1461H1041"/>
<path d="M89 1461C400 1440 814 1100 814 672"/><path d="M134 1461C500 1450 814 1300 814 1066"/><path d="M180 1461C400 1461 500 1310 736 1310"/>
<path d="M367 1461C600 1420 814 1100 814 672"/><path d="M413 1461C600 1440 814 1300 814 1066"/><path d="M458 1461C560 1440 600 1310 736 1310"/>
<path d="M552 1461C700 1430 814 1100 814 672"/><path d="M598 1461C720 1440 814 1250 814 1066"/><path d="M644 1461C700 1440 660 1310 736 1310"/>
<path d="M774 1461C800 1300 814 1050 814 672"/><path d="M820 1461C815 1350 812 1200 814 1066"/>
<path d="M995 1461C905 1400 840 1280 814 672"/><path d="M1041 1461C970 1440 880 1320 814 1066"/>
<!-- food tabs long -->
<path d="M1434 1292C1100 1270 880 1000 814 672"/>
<path d="M1434 1679C1250 1640 1050 1480 955 1311C880 1180 830 950 814 672"/>
<path d="M1480 1679C1250 1650 1020 1500 945 1411C880 1320 830 1150 814 1066"/>
<path d="M1434 1679C1100 1650 814 1610 814 1485"/><path d="M1525 1679C1150 1660 814 1620 814 1485"/>
<!-- auth to payment2 -->
<path d="M188 1219H466"/>
<path d="M466 1219C600 1210 1400 1120 1625 1066C1780 1030 1915 1000 1915 930"/>
<path d="M188 1219C600 1219 1400 1135 1625 1078C1790 1038 1915 1000 1915 930"/>
<path d="M651 1219C800 1215 1400 1148 1625 1090C1800 1045 1915 1010 1915 930"/>
<path d="M467 1282C800 1260 1254 1000 1254 527"/>
<path d="M653 1309C680 1312 700 1310 736 1310"/>
<path d="M1875 906H1966"/>
<!-- settings -->
<path d="M838 1271C800 1290 770 1310 736 1310"/><path d="M838 1271C880 1290 900 1310 957 1310"/>
<path d="M1434 1292C1200 1305 1100 1310 891 1310"/><path d="M969 1155C950 1200 960 1310 891 1310"/>
<path d="M838 1271C920 1230 1050 1100 1254 600"/>
<!-- up into top row bottoms -->
<path d="M552 1461C950 1380 1254 1000 1254 527"/><path d="M367 1461C850 1440 1254 1000 1254 527"/>
<path d="M598 1461C850 1350 1040 1000 1040 527"/><path d="M180 1461C700 1440 1040 1000 1040 527"/>
<path d="M644 1461C1050 1420 1474 1100 1474 527"/><path d="M458 1461C1000 1440 1474 1100 1474 527"/>
<!-- arrowheads -->
<path d="M941 339L957 351L941 363"/><path d="M907 413L891 425L907 437"/>
<path d="M1348 339L1332 351L1348 363"/><path d="M1380 339L1396 351L1380 363"/><path d="M1568 339L1552 351L1568 363"/><path d="M1788 339L1772 351L1788 363"/><path d="M1821 339L1837 351L1821 363"/>
<path d="M907 881L891 893L907 905"/><path d="M1128 745L1112 757L1128 769"/><path d="M1601 743L1617 755L1601 767"/>
<path d="M720 1298L736 1310L720 1322"/><path d="M907 1298L891 1310L907 1322"/><path d="M941 1298L957 1310L941 1322"/>
<path d="M1564 1042L1548 1054L1564 1066"/>
<path d="M802 684L814 668L826 684"/><path d="M802 708L814 724L826 708"/><path d="M802 1077L814 1061L826 1077"/><path d="M802 1126L814 1142L826 1126"/><path d="M802 1495L814 1479L826 1495"/>
<path d="M1028 536L1040 520L1052 536"/><path d="M1242 536L1254 520L1266 536"/><path d="M1462 536L1474 520L1486 536"/><path d="M1682 536L1694 520L1706 536"/><path d="M1903 536L1915 520L1927 536"/><path d="M2123 536L2135 520L2147 536"/>
<path d="M1022 571L1034 587L1046 571"/><path d="M1242 571L1254 587L1266 571"/><path d="M1462 571L1474 587L1486 571"/><path d="M1682 571L1694 587L1706 571"/><path d="M1903 571L1915 587L1927 571"/>
<path d="M1903 940L1915 924L1927 940"/><path d="M1462 1343L1474 1359L1486 1343"/>
</g>

<!-- NODES -->
<g fill="#a0d0fa"><circle cx="1541" cy="413" r="8"/><circle cx="1460" cy="762" r="8"/><circle cx="945" cy="1239" r="8"/></g>
<g class="nd">
<circle cx="837" cy="229" r="9.500"/><circle cx="809" cy="281" r="9.500"/><circle cx="879" cy="281" r="9.500"/><circle cx="809" cy="372" r="9.500"/><circle cx="879" cy="372" r="9.500"/><circle cx="809" cy="464" r="9.500"/><circle cx="879" cy="464" r="9.500"/><circle cx="809" cy="556" r="9.500"/><circle cx="879" cy="556" r="9.500"/><circle cx="819" cy="650" r="9.500"/>
<circle cx="967" cy="197" r="9.500"/><circle cx="1000" cy="424" r="9.500"/><circle cx="994" cy="502" r="9.500"/><circle cx="1040" cy="502" r="9.500"/><circle cx="1085" cy="502" r="9.500"/>
<circle cx="1187" cy="197" r="9.500"/><circle cx="1258" cy="264" r="9.500"/><circle cx="1313" cy="331" r="9.500"/><circle cx="1313" cy="364" r="9.500"/><circle cx="1214" cy="502" r="9.500"/><circle cx="1260" cy="502" r="9.500"/><circle cx="1305" cy="502" r="9.500"/>
<circle cx="1407" cy="197" r="9.500"/><circle cx="1476" cy="229" r="9.500"/><circle cx="1534" cy="467" r="9.500"/><circle cx="1435" cy="502" r="9.500"/><circle cx="1480" cy="502" r="9.500"/><circle cx="1526" cy="502" r="9.500"/>
<circle cx="1627" cy="197" r="9.500"/><circle cx="1754" cy="467" r="9.500"/><circle cx="1655" cy="502" r="9.500"/><circle cx="1700" cy="502" r="9.500"/><circle cx="1746" cy="502" r="9.500"/>
<circle cx="1848" cy="197" r="9.500"/><circle cx="1974" cy="261" r="9.500"/><circle cx="1875" cy="502" r="9.500"/><circle cx="1921" cy="502" r="9.500"/><circle cx="1966" cy="502" r="9.500"/>
<circle cx="2068" cy="197" r="9.500"/><circle cx="2095" cy="502" r="9.500"/><circle cx="2140" cy="502" r="9.500"/><circle cx="2186" cy="502" r="9.500"/>
<circle cx="967" cy="601" r="9.500"/><circle cx="1094" cy="875" r="9.500"/><circle cx="994" cy="906" r="9.500"/><circle cx="1040" cy="906" r="9.500"/><circle cx="1085" cy="906" r="9.500"/>
<circle cx="1187" cy="600" r="9.500"/><circle cx="1313" cy="734" r="9.500"/><circle cx="1313" cy="768" r="9.500"/><circle cx="1214" cy="906" r="9.500"/><circle cx="1260" cy="906" r="9.500"/><circle cx="1305" cy="906" r="9.500"/>
<circle cx="1407" cy="600" r="9.500"/><circle cx="1444" cy="633" r="9.500"/><circle cx="1534" cy="872" r="9.500"/><circle cx="1435" cy="906" r="9.500"/><circle cx="1480" cy="906" r="9.500"/><circle cx="1526" cy="906" r="9.500"/>
<circle cx="1627" cy="600" r="9.500"/><circle cx="1754" cy="871" r="9.500"/><circle cx="1655" cy="906" r="9.500"/><circle cx="1700" cy="906" r="9.500"/><circle cx="1746" cy="906" r="9.500"/>
<circle cx="1848" cy="600" r="9.500"/><circle cx="1974" cy="871" r="9.500"/><circle cx="1875" cy="906" r="9.500"/><circle cx="1966" cy="906" r="9.500"/>
<circle cx="747" cy="738" r="9.500"/><circle cx="774" cy="1043" r="9.500"/><circle cx="865" cy="1043" r="9.500"/>
<circle cx="62" cy="1155" r="9.500"/><circle cx="188" cy="1219" r="9.500"/><circle cx="89" cy="1461" r="9.500"/><circle cx="134" cy="1461" r="9.500"/><circle cx="180" cy="1461" r="9.500"/>
<circle cx="340" cy="1155" r="9.500"/><circle cx="466" cy="1219" r="9.500"/><circle cx="467" cy="1282" r="9.500"/><circle cx="367" cy="1461" r="9.500"/><circle cx="413" cy="1461" r="9.500"/><circle cx="458" cy="1461" r="9.500"/>
<circle cx="525" cy="1155" r="9.500"/><circle cx="651" cy="1219" r="9.500"/><circle cx="653" cy="1309" r="9.500"/><circle cx="552" cy="1461" r="9.500"/><circle cx="598" cy="1461" r="9.500"/><circle cx="644" cy="1461" r="9.500"/>
<circle cx="747" cy="1155" r="9.500"/><circle cx="838" cy="1271" r="9.500"/><circle cx="774" cy="1461" r="9.500"/><circle cx="820" cy="1461" r="9.500"/>
<circle cx="969" cy="1155" r="9.500"/><circle cx="995" cy="1461" r="9.500"/><circle cx="1041" cy="1461" r="9.500"/>
<circle cx="1408" cy="987" r="9.500"/><circle cx="1444" cy="1020" r="9.500"/><circle cx="1513" cy="1062" r="9.500"/><circle cx="1537" cy="1059" r="9.500"/><circle cx="1537" cy="1053" r="9.500"/><circle cx="1534" cy="1257" r="9.500"/><circle cx="1434" cy="1292" r="9.500"/><circle cx="1480" cy="1292" r="9.500"/><circle cx="1525" cy="1292" r="9.500"/>
<circle cx="1408" cy="1373" r="9.500"/><circle cx="1444" cy="1406" r="9.500"/><circle cx="1513" cy="1448" r="9.500"/><circle cx="1534" cy="1644" r="9.500"/><circle cx="1434" cy="1679" r="9.500"/><circle cx="1480" cy="1679" r="9.500"/><circle cx="1525" cy="1679" r="9.500"/>
</g>
</svg>
</body></html>
